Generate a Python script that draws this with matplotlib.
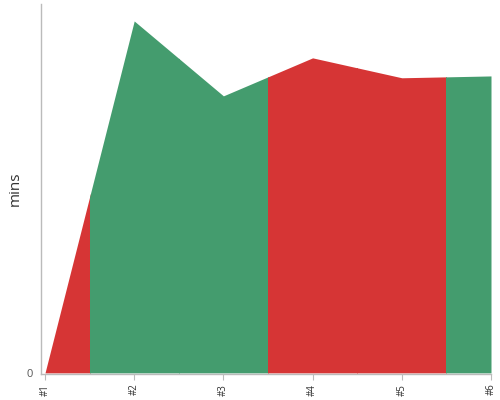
import matplotlib
matplotlib.use("Agg")
import matplotlib.pyplot as plt
from matplotlib.patches import Rectangle

plt.rcParams['font.family'] = ['Open Sans', 'DejaVu Sans']

categories = ['#1', '#2', '#3', '#4', '#5', '#6']
values = [0, 95.4, 75.1, 85.4, 80.0, 80.5]
point_colors = ['red', 'green', 'green', 'red', 'red', 'green']
palette = {'red': '#D63535', 'green': '#449C6E'}

fig = plt.figure(figsize=(5, 4), dpi=100)
ax = fig.add_axes([0.082, 0.065, 0.9, 0.925])

x = list(range(1, len(categories) + 1))
ymax = 100
for i, c in zip(x, point_colors):
    poly = ax.fill_between(x, 0, values, color=palette[c], linewidth=0)
    rect = Rectangle((i - 0.5, -1), 1, ymax + 2, transform=ax.transData)
    poly.set_clip_path(rect)

ax.set_xlim(1 - 4 / 89.2, 6)
ax.set_ylim(-0.3, ymax)
ax.set_xticks(x)
ax.set_xticklabels(categories, rotation=90, fontsize=7, color='#333333')
ax.set_yticks([0])
ax.set_yticklabels(['0'], fontsize=8, color='#555555')
ax.tick_params(axis='y', length=0, pad=6)
ax.tick_params(axis='x', length=4, color='#bbbbbb', pad=3)
for s in ['top', 'right']:
    ax.spines[s].set_visible(False)
for s in ['left', 'bottom']:
    ax.spines[s].set_color('#bbbbbb')
    ax.spines[s].set_linewidth(1)
ax.set_ylabel('mins', fontsize=11, color='#333333')
ax.yaxis.set_label_coords(-0.04, 0.5)

fig.savefig('out.png', dpi=100)
